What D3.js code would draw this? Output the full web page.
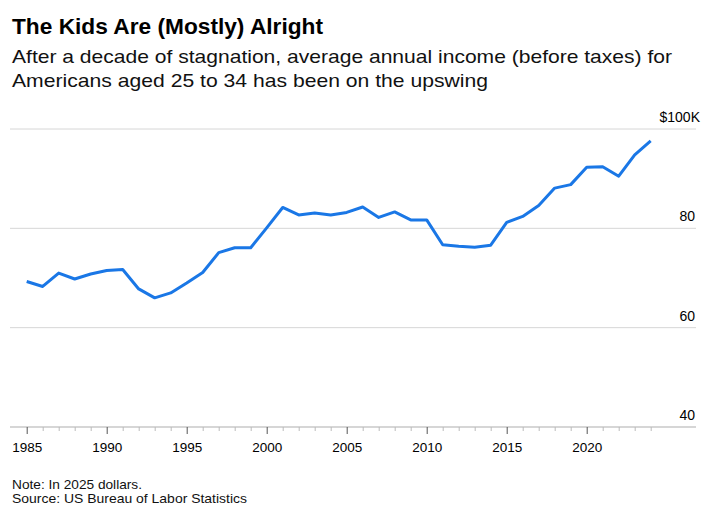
<!DOCTYPE html>
<html>
<head>
<meta charset="utf-8">
<script src="https://cdn.jsdelivr.net/npm/d3@7"></script>
<style>
  body { margin: 0; background: #fff; }
  svg { display: block; font-family: "Liberation Sans", Arial, sans-serif; }
</style>
</head>
<body>
<div id="chart"></div>
<script>
// income, 2025 dollars, thousands
const years = d3.range(1985, 2025);
const incomeK = [
  69.3, 68.3, 71.0, 69.8, 70.8, 71.5, 71.7, 67.8, 66.0, 67.0,
  69.0, 71.1, 75.1, 76.1, 76.1, 80.1, 84.2, 82.7, 83.1, 82.7,
  83.2, 84.3, 82.2, 83.3, 81.7, 81.7, 76.7, 76.4, 76.2, 76.6,
  81.2, 82.4, 84.6, 88.1, 88.8, 92.3, 92.4, 90.5, 94.8, 97.6
];
const yTicks = [40, 60, 80, 100];
const yTickLabels = ["40", "60", "80", "$100K"];
const xMajorTicks = [1985, 1990, 1995, 2000, 2005, 2010, 2015, 2020];

const titleText = "The Kids Are (Mostly) Alright";
const subtitleLines = [
  "After a decade of stagnation, average annual income (before taxes) for",
  "Americans aged 25 to 34 has been on the upswing"
];
const footerLines = ["Note: In 2025 dollars.", "Source: US Bureau of Labor Statistics"];

const width = 712, height = 528;
const plotLeft = 10, plotRight = 696;

const svg = d3.select("#chart").append("svg")
    .attr("width", width)
    .attr("height", height);

// header
svg.append("text")
    .attr("x", 12).attr("y", 34)
    .attr("font-size", 22).attr("font-weight", 700).attr("fill", "#000")
    .attr("textLength", 311).attr("lengthAdjust", "spacingAndGlyphs")
    .text(titleText);

const subWidths = [660, 476];
svg.selectAll(".subtitle").data(subtitleLines).enter().append("text")
    .attr("class", "subtitle")
    .attr("x", 12).attr("y", (d, i) => 63 + i * 24)
    .attr("font-size", 19).attr("fill", "#111")
    .attr("textLength", (d, i) => subWidths[i]).attr("lengthAdjust", "spacingAndGlyphs")
    .text(d => d);

// scales
const x = d3.scaleLinear().domain([1985, 2024]).range([26.7, 650.7]);
const y = d3.scaleLinear().domain([40, 100]).range([427, 129]);

// gridlines + labels
const grid = svg.append("g");
grid.selectAll("line").data(yTicks.filter(d => d !== 40)).enter().append("line")
    .attr("x1", plotLeft).attr("x2", plotRight)
    .attr("y1", d => y(d)).attr("y2", d => y(d))
    .attr("stroke", "#d6d6d6").attr("stroke-width", 1);

grid.selectAll("text").data(yTicks).enter().append("text")
    .attr("x", (d, i) => i === yTicks.length - 1 ? 700 : 695)
    .attr("y", d => y(d) - 7)
    .attr("text-anchor", "end")
    .attr("font-size", 14).attr("fill", "#000")
    .text((d, i) => yTickLabels[i]);

// x axis
const axisG = svg.append("g").attr("transform", `translate(0,${y(40)})`);
axisG.append("line")
    .attr("x1", plotLeft).attr("x2", plotRight)
    .attr("stroke", "#c8c8c8").attr("stroke-width", 1.5);

const minor = axisG.append("g")
    .call(d3.axisBottom(x).tickValues(years.filter(d => d % 5 !== 0)).tickSize(4).tickFormat(""));
minor.select(".domain").remove();
minor.selectAll(".tick line").attr("stroke", "#bbb");

const major = axisG.append("g")
    .call(d3.axisBottom(x).tickValues(xMajorTicks).tickSize(7).tickPadding(8).tickFormat(d3.format("d")));
major.select(".domain").remove();
major.selectAll(".tick line").attr("stroke", "#555");
major.selectAll(".tick text")
    .attr("font-size", 13.5).attr("fill", "#000")
    .attr("font-family", "\"Liberation Sans\", Arial, sans-serif");

// line
svg.append("path")
    .datum(years.map((yr, i) => ({ yr, v: incomeK[i] })))
    .attr("fill", "none")
    .attr("stroke", "#1a77e6")
    .attr("stroke-width", 3)
    .attr("stroke-linejoin", "round")
    .attr("d", d3.line().x(d => x(d.yr)).y(d => y(d.v)));

// footer
svg.selectAll(".footer").data(footerLines).enter().append("text")
    .attr("class", "footer")
    .attr("x", 12).attr("y", (d, i) => 489 + i * 14)
    .attr("font-size", 13).attr("fill", "#111")
    .attr("textLength", (d, i) => [130, 235][i]).attr("lengthAdjust", "spacingAndGlyphs")
    .text(d => d);
</script>
</body>
</html>
